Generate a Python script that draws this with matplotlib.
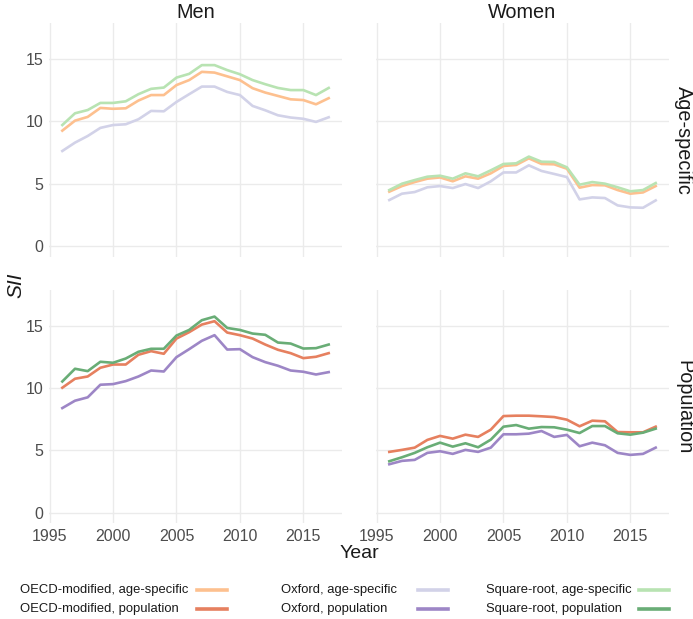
import numpy as np
import matplotlib.pyplot as plt
from matplotlib.lines import Line2D

plt.rcParams['font.family'] = ['Liberation Sans', 'DejaVu Sans']

years = np.arange(1996, 2018)

# Men, age-specific
men_age_oecd = [9.25, 10.05, 10.35, 11.07, 11.0, 11.04, 11.66, 12.1, 12.1, 12.9, 13.3,
                13.96, 13.9, 13.6, 13.3, 12.65, 12.3, 12.03, 11.76, 11.7, 11.36, 11.85]
men_age_oxford = [7.62, 8.29, 8.82, 9.47, 9.7, 9.76, 10.16, 10.83, 10.8, 11.55, 12.17,
                  12.78, 12.78, 12.35, 12.1, 11.23, 10.88, 10.48, 10.3, 10.2, 9.95, 10.32]
men_age_sqrt = [9.7, 10.64, 10.9, 11.47, 11.47, 11.6, 12.17, 12.6, 12.7, 13.5, 13.8,
                14.5, 14.5, 14.1, 13.77, 13.3, 12.97, 12.67, 12.5, 12.5, 12.1, 12.67]

# Women, age-specific
women_age_oecd = [4.36, 4.81, 5.13, 5.4, 5.5, 5.19, 5.59, 5.4, 5.83, 6.42, 6.5,
                  7.03, 6.58, 6.55, 6.2, 4.68, 4.89, 4.87, 4.49, 4.2, 4.3, 4.81]
women_age_oxford = [3.69, 4.2, 4.33, 4.71, 4.81, 4.65, 4.97, 4.65, 5.19, 5.9, 5.9,
                    6.47, 6.02, 5.78, 5.53, 3.74, 3.9, 3.85, 3.26, 3.1, 3.07, 3.66]
women_age_sqrt = [4.49, 5.0, 5.29, 5.56, 5.64, 5.4, 5.83, 5.59, 6.07, 6.58, 6.63,
                  7.17, 6.76, 6.74, 6.31, 4.92, 5.13, 5.0, 4.71, 4.39, 4.49, 5.05]

# Men, population
men_pop_oecd = [10.02, 10.74, 10.92, 11.62, 11.88, 11.88, 12.66, 12.95, 12.74, 13.96, 14.47,
                15.08, 15.35, 14.44, 14.23, 13.96, 13.48, 13.06, 12.79, 12.39, 12.5, 12.79]
men_pop_oxford = [8.39, 8.98, 9.25, 10.26, 10.31, 10.55, 10.92, 11.4, 11.32, 12.47, 13.11,
                  13.78, 14.23, 13.08, 13.11, 12.47, 12.07, 11.78, 11.4, 11.3, 11.08, 11.27]
men_pop_sqrt = [10.52, 11.54, 11.35, 12.1, 12.02, 12.36, 12.9, 13.14, 13.14, 14.2, 14.65,
                15.43, 15.72, 14.81, 14.65, 14.36, 14.26, 13.64, 13.56, 13.16, 13.19, 13.48]

# Women, population
women_pop_oecd = [4.88, 5.04, 5.22, 5.84, 6.16, 5.94, 6.26, 6.08, 6.66, 7.75, 7.78,
                  7.78, 7.73, 7.67, 7.46, 6.93, 7.38, 7.33, 6.47, 6.45, 6.45, 6.9]
women_pop_oxford = [3.89, 4.16, 4.24, 4.8, 4.93, 4.72, 5.04, 4.88, 5.22, 6.29, 6.29,
                    6.34, 6.55, 6.08, 6.24, 5.33, 5.62, 5.41, 4.8, 4.64, 4.72, 5.22]
women_pop_sqrt = [4.13, 4.45, 4.8, 5.25, 5.62, 5.3, 5.57, 5.25, 5.86, 6.9, 7.03,
                  6.74, 6.87, 6.85, 6.66, 6.39, 6.95, 6.95, 6.37, 6.26, 6.42, 6.74]

sexes = ['Men', 'Women']
standards = ['Age-specific', 'Population']
legend_labels = [
    'OECD-modified, age-specific', 'OECD-modified, population',
    'Oxford, age-specific', 'Oxford, population',
    'Square-root, age-specific', 'Square-root, population',
]
colors = {
    'OECD-modified, age-specific': '#fdc08f',
    'OECD-modified, population': '#e6805f',
    'Oxford, age-specific': '#d2d2e8',
    'Oxford, population': '#9d86c6',
    'Square-root, age-specific': '#b8e3b2',
    'Square-root, population': '#69ad76',
}

panels = {
    ('Men', 'Age-specific'): [men_age_oecd, men_age_oxford, men_age_sqrt],
    ('Women', 'Age-specific'): [women_age_oecd, women_age_oxford, women_age_sqrt],
    ('Men', 'Population'): [men_pop_oecd, men_pop_oxford, men_pop_sqrt],
    ('Women', 'Population'): [women_pop_oecd, women_pop_oxford, women_pop_sqrt],
}

W, H = 693, 619
fig = plt.figure(figsize=(W / 100, H / 100), dpi=100)

lefts = [49, 376]
tops = [23.3, 290]
pw, ph = 293, 233.4
grid_c = '#ebebeb'
tick_c = '#4d4d4d'

for r, std in enumerate(standards):
    for c, sex in enumerate(sexes):
        ax = fig.add_axes([lefts[c] / W, 1 - (tops[r] + ph) / H, pw / W, ph / H])
        series = panels[(sex, std)]
        suffix = 'age-specific' if std == 'Age-specific' else 'population'
        for name, vals in zip(['OECD-modified', 'Oxford', 'Square-root'], series):
            lab = f'{name}, {suffix}'
            ax.plot(years, vals, color=colors[lab], lw=1.9, solid_joinstyle='round')
        ax.set_xlim(1994.95, 2018.05)
        ax.set_ylim(-0.85, 17.85)
        ax.set_xticks([1995, 2000, 2005, 2010, 2015])
        ax.set_yticks([0, 5, 10, 15])
        ax.grid(True, color=grid_c, lw=1.0)
        ax.set_axisbelow(True)
        for s in ax.spines.values():
            s.set_visible(False)
        ax.tick_params(length=0, labelsize=11.5, labelcolor=tick_c, pad=4)
        if c == 1:
            ax.set_yticklabels([])
        if r == 0:
            ax.set_xticklabels([])
            ax.set_title(sex, fontsize=14.3, color='#1a1a1a', pad=4)
        if c == 1:
            ax.text(1.05, 0.5, std, transform=ax.transAxes, rotation=-90,
                    ha='center', va='center', fontsize=14.3, color='#1a1a1a')

fig.text(359 / W, 1 - 554 / H, 'Year', ha='center', va='center', fontsize=14, color='#1a1a1a')
fig.text(16 / W, 1 - 285 / H, 'SII', ha='center', va='center', rotation=90,
         fontsize=15, style='italic', color='#1a1a1a')

# legend: three columns, label followed by key
col_text_x = [20, 281, 486]
col_key_x = [197, 418, 639]
row_y = [590, 609]
for i, lab in enumerate(legend_labels):
    c, r = divmod(i, 2)
    y = 1 - row_y[r] / H
    fig.text(col_text_x[c] / W, y, lab, ha='left', va='center', fontsize=9.4, color='#1a1a1a')
    fig.add_artist(Line2D([col_key_x[c] / W, (col_key_x[c] + 30) / W], [y, y],
                          transform=fig.transFigure, color=colors[lab], lw=2.6))

fig.savefig('out.png', dpi=100)
